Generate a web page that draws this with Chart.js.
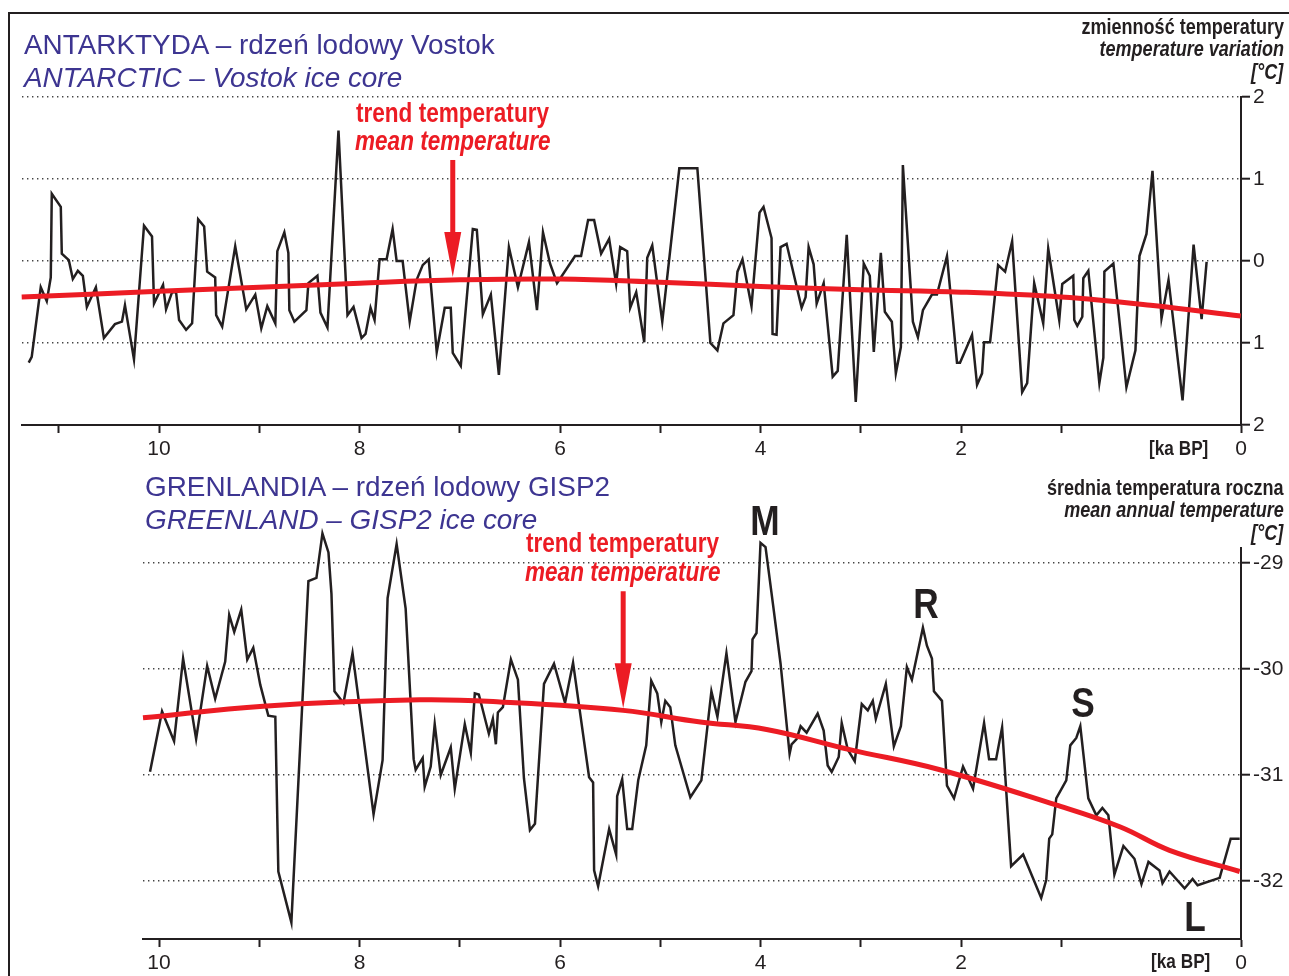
<!DOCTYPE html>
<html>
<head>
<meta charset="utf-8">
<script src="https://cdn.jsdelivr.net/npm/chart.js@4.4.1/dist/chart.umd.min.js"></script>
<style>
  html, body { margin: 0; padding: 0; background: #fff; }
  #page { position: relative; width: 1289px; height: 976px; overflow: hidden; background: #fff; }
  #frame { position: absolute; left: 8px; top: 12px; width: 1300px; height: 1000px;
           border-left: 2px solid #231f20; border-top: 2px solid #231f20; }
  canvas { position: absolute; left: 0; }
  .t { position: absolute; line-height: 0; white-space: nowrap; }
</style>
</head>
<body>
<div id="page">
  <div id="frame"></div>
  <canvas id="vostok" width="1289" height="470" style="top:0px"></canvas>
  <canvas id="gisp" width="1289" height="516" style="top:460px"></canvas>
</div>
<script>
// ---- data (ka BP, °C) ----
const vostokAge = [11.30, 11.27, 11.18, 11.12, 11.08, 11.07, 10.98, 10.97, 10.90, 10.86, 10.81, 10.76, 10.72, 10.63, 10.55, 10.44, 10.37, 10.34, 10.25, 10.15,
  10.07, 10.05, 9.96, 9.93, 9.87, 9.83, 9.80, 9.73, 9.67, 9.61, 9.55, 9.52, 9.44, 9.43, 9.37, 9.24, 9.13, 9.04, 8.98, 8.92,
  8.84, 8.82, 8.75, 8.71, 8.70, 8.65, 8.53, 8.51, 8.42, 8.39, 8.32, 8.21, 8.12, 8.06, 7.98, 7.94, 7.89, 7.85, 7.80, 7.73,
  7.67, 7.63, 7.57, 7.50, 7.43, 7.37, 7.31, 7.23, 7.15, 7.09, 7.07, 6.99, 6.87, 6.83, 6.77, 6.69, 6.61, 6.51, 6.42, 6.31,
  6.23, 6.17, 6.10, 6.03, 5.85, 5.79, 5.72, 5.66, 5.59, 5.51, 5.44, 5.40, 5.33, 5.30, 5.24, 5.16, 5.13, 5.08, 4.98, 4.81,
  4.63, 4.50, 4.43, 4.37, 4.27, 4.23, 4.18, 4.09, 4.01, 3.97, 3.89, 3.88, 3.84, 3.80, 3.74, 3.59, 3.55, 3.52, 3.47, 3.44,
  3.37, 3.28, 3.23, 3.14, 3.05, 2.97, 2.91, 2.87, 2.80, 2.76, 2.69, 2.65, 2.60, 2.58, 2.48, 2.43, 2.38, 2.29, 2.24, 2.14,
  2.04, 2.01, 1.89, 1.84, 1.79, 1.77, 1.71, 1.63, 1.56, 1.49, 1.39, 1.34, 1.27, 1.18, 1.13, 1.02, 0.99, 0.88, 0.87, 0.84,
  0.79, 0.78, 0.73, 0.62, 0.58, 0.57, 0.48, 0.35, 0.26, 0.22, 0.15, 0.09, 0.00, -0.07, -0.21, -0.32, -0.40, -0.45];
const vostokTemp = [-1.24, -1.17, -0.32, -0.49, -0.20, 0.82, 0.66, 0.09, 0.01, -0.22, -0.12, -0.18, -0.56, -0.32, -0.94, -0.77, -0.74, -0.54, -1.20, 0.43,
  0.30, -0.52, -0.29, -0.59, -0.38, -0.38, -0.72, -0.84, -0.76, 0.51, 0.42, -0.13, -0.20, -0.66, -0.80, 0.18, -0.59, -0.41, -0.82, -0.55,
  -0.76, 0.12, 0.35, 0.10, -0.60, -0.74, -0.60, -0.27, -0.18, -0.63, -0.81, 1.59, -0.66, -0.56, -0.94, -0.89, -0.57, -0.72, 0.02, 0.02,
  0.39, 0.00, 0.00, -0.74, -0.23, -0.05, 0.02, -1.11, -0.57, -0.57, -1.12, -1.28, 0.39, 0.38, -0.65, -0.41, -1.39, 0.17, -0.32, 0.23,
  -0.60, 0.35, -0.03, -0.27, 0.06, 0.06, 0.50, 0.50, 0.09, 0.27, -0.28, 0.17, 0.12, -0.57, -0.38, -0.99, 0.04, 0.19, -0.74, 1.13,
  1.13, -1.00, -1.09, -0.76, -0.66, -0.13, 0.02, -0.55, 0.59, 0.66, 0.28, -0.89, -0.90, 0.17, 0.21, -0.57, -0.44, 0.17, -0.04, -0.52,
  -0.27, -1.41, -1.34, 0.32, -1.72, -0.03, -0.18, -1.11, 0.10, -0.62, -0.74, -1.37, -1.05, 1.17, -0.74, -0.93, -0.60, -0.41, -0.41, 0.06,
  -1.24, -1.24, -0.90, -1.51, -1.37, -0.99, -0.99, -0.05, -0.13, 0.24, -1.60, -1.49, -0.27, -0.76, 0.15, -0.72, -0.28, -0.18, -0.72, -0.79,
  -0.68, -0.21, -0.12, -1.49, -1.18, -0.13, -0.03, -1.54, -1.09, 0.06, 0.33, 1.10, -0.70, -0.23, -1.70, 0.20, -0.71, -0.01];
const vostokTrendAge = [11.37, 10, 9, 8, 7, 6, 5, 4, 3, 2, 1, 0.11, -0.79];
const vostokTrendTemp = [-0.44, -0.37, -0.32, -0.27, -0.23, -0.22, -0.26, -0.31, -0.35, -0.38, -0.44, -0.54, -0.67];

const gispAge = [10.09, 9.97, 9.85, 9.76, 9.63, 9.52, 9.44, 9.34, 9.30, 9.25, 9.18, 9.12, 9.06, 8.99, 8.91, 8.84, 8.81, 8.68, 8.51, 8.43,
  8.37, 8.31, 8.28, 8.25, 8.16, 8.07, 7.86, 7.77, 7.72, 7.63, 7.54, 7.46, 7.44, 7.37, 7.35, 7.29, 7.25, 7.19, 7.09, 7.05,
  6.95, 6.89, 6.85, 6.81, 6.71, 6.67, 6.64, 6.62, 6.57, 6.49, 6.42, 6.36, 6.30, 6.25, 6.16, 6.06, 5.95, 5.87, 5.71, 5.67,
  5.66, 5.62, 5.51, 5.44, 5.43, 5.38, 5.33, 5.28, 5.22, 5.14, 5.09, 5.03, 4.99, 4.95, 4.90, 4.85, 4.70, 4.59, 4.49, 4.43,
  4.34, 4.25, 4.15, 4.09, 4.08, 4.04, 4.00, 3.95, 3.87, 3.80, 3.71, 3.69, 3.64, 3.60, 3.54, 3.43, 3.37, 3.33, 3.29, 3.22,
  3.19, 3.13, 3.06, 2.99, 2.93, 2.88, 2.85, 2.75, 2.67, 2.60, 2.54, 2.49, 2.38, 2.34, 2.29, 2.27, 2.19, 2.14, 2.07, 1.98,
  1.88, 1.77, 1.72, 1.65, 1.59, 1.50, 1.38, 1.20, 1.15, 1.12, 1.09, 1.05, 0.95, 0.91, 0.85, 0.81, 0.73, 0.65, 0.59, 0.53,
  0.47, 0.38, 0.27, 0.20, 0.13, 0.02, -0.01, -0.08, -0.23, -0.31, -0.36, -0.58, -0.69, -0.78];
const gispTemp = [-30.97, -30.40, -30.68, -29.90, -30.66, -29.97, -30.28, -29.93, -29.49, -29.65, -29.44, -29.91, -29.80, -30.15, -30.44, -30.45, -31.91, -32.39, -29.17, -29.14,
  -28.72, -28.90, -29.29, -30.21, -30.32, -29.85, -31.37, -30.86, -29.33, -28.82, -29.43, -30.85, -30.95, -30.84, -31.11, -30.92, -30.52, -31.00, -30.74, -31.13,
  -30.52, -30.79, -30.23, -30.24, -30.61, -30.47, -30.71, -30.41, -30.36, -29.91, -30.10, -31.03, -31.52, -31.46, -30.14, -29.95, -30.32, -29.94, -31.02, -31.07,
  -31.90, -32.05, -31.51, -31.75, -31.20, -31.04, -31.51, -31.51, -31.05, -30.72, -30.11, -30.23, -30.50, -30.30, -30.36, -30.72, -31.21, -31.05, -30.21, -30.45,
  -29.85, -30.50, -30.12, -30.02, -29.72, -29.66, -28.81, -28.85, -29.43, -29.95, -30.80, -30.71, -30.66, -30.54, -30.60, -30.42, -30.58, -30.91, -30.97, -30.83,
  -30.51, -30.76, -30.87, -30.33, -30.39, -30.30, -30.47, -30.14, -30.73, -30.54, -29.98, -30.10, -29.61, -29.78, -29.90, -30.21, -30.30, -31.10, -31.22, -30.92,
  -31.13, -30.51, -30.85, -30.85, -30.55, -31.86, -31.75, -32.16, -31.99, -31.60, -31.56, -31.22, -31.05, -30.72, -30.65, -30.54, -31.22, -31.38, -31.31, -31.38,
  -31.94, -31.67, -31.79, -32.03, -31.82, -31.90, -32.02, -31.91, -32.07, -31.98, -32.04, -31.97, -31.60, -31.60];
const gispTrendAge = [10.16, 8.96, 7.40, 6.60, 5.37, 4.60, 3.94, 3.11, 2.21, 1.06, 0.41, -0.08, -0.78];
const gispTrendTemp = [-30.46, -30.35, -30.29, -30.31, -30.39, -30.50, -30.57, -30.76, -30.95, -31.28, -31.49, -31.71, -31.91];

const tickAges = [11, 10, 9, 8, 7, 6, 5, 4, 3, 2, 1];
const vostokTicks = [-2, -1, 0, 1, 2];
const gispTicks = [-32, -31, -30, -29];
const AGE_END = -0.793;   // right edge of the time axis, labelled "0"

// ---- style ----
const INK = '#231f20';
const RED = '#ec1c24';
const BLUE = '#3d3591';
const SANS = "'Liberation Sans', Arial, sans-serif";
const NARROW = 0.82;      // horizontal squeeze to get a condensed look

Chart.defaults.font.family = SANS;
Chart.defaults.color = INK;

const pts = (xs, ys) => xs.map((x, i) => ({ x, y: ys[i] }));

// red arrow pointing at the trend line
const arrowPlugin = {
  id: 'arrow',
  afterDatasetsDraw(chart, args, opts) {
    const { ctx, scales: { x, y } } = chart;
    const px = x.getPixelForValue(opts.age);
    const tip = y.getPixelForValue(opts.tip);
    ctx.save();
    ctx.fillStyle = RED;
    ctx.fillRect(px - 2.5, tip - opts.length, 5, opts.length - opts.head + 1);
    ctx.beginPath();
    ctx.moveTo(px - 8.5, tip - opts.head);
    ctx.lineTo(px + 8.5, tip - opts.head);
    ctx.lineTo(px, tip);
    ctx.closePath();
    ctx.fill();
    ctx.restore();
  }
};

function xAxis(maxAge, height) {
  return {
    type: 'linear', reverse: true, min: AGE_END, max: maxAge,
    afterBuildTicks: s => {
      s.ticks = tickAges.filter(v => v <= maxAge).map(v => ({ value: v })).concat([{ value: AGE_END }]);
    },
    afterFit: s => { s.height = height; },
    ticks: {
      autoSkip: false, maxRotation: 0, padding: 4, color: INK, font: { size: 21 },
      callback: v => Math.abs(v - AGE_END) < 1e-6 ? '0' : (Math.round(v) % 2 === 0 ? String(v) : '')
    },
    grid: { drawOnChartArea: false, drawTicks: true, tickLength: 8, tickWidth: 2, tickColor: INK, color: INK },
    border: { display: true, color: INK, width: 2 }
  };
}

function yAxis(min, max, ticks, hideValue, fmt) {
  return {
    position: 'right', min, max,
    afterBuildTicks: s => { s.ticks = ticks.map(v => ({ value: v })); },
    afterFit: s => { s.width = 48; },
    ticks: { padding: 3, color: INK, font: { size: 21 }, callback: fmt },
    grid: {
      color: c => (c.tick && c.tick.value === hideValue) ? 'rgba(0,0,0,0)' : '#444',
      lineWidth: 1.4, tickLength: 9, tickWidth: 2, tickColor: INK
    },
    border: { display: true, color: INK, width: 2, dash: [1.4, 3.6] }
  };
}

function makeChart(id, series, trend, scales, padding, arrow) {
  return new Chart(document.getElementById(id), {
    type: 'line',
    data: {
      datasets: [
        { data: trend, borderColor: RED, borderWidth: 5, pointRadius: 0, tension: 0.4, fill: false, clip: false },
        { data: series, borderColor: INK, borderWidth: 2.5, pointRadius: 0, tension: 0, fill: false,
          borderJoinStyle: 'miter', clip: false }
      ]
    },
    options: {
      responsive: false, animation: false, devicePixelRatio: 1,
      layout: { padding, autoPadding: false },
      plugins: { legend: { display: false }, tooltip: { enabled: false }, arrow },
      scales
    },
    plugins: [arrowPlugin]
  });
}

makeChart('vostok', pts(vostokAge, vostokTemp), pts(vostokTrendAge, vostokTrendTemp),
  { x: xAxis(11.367, 45), y: yAxis(-2, 2, vostokTicks, -2, v => String(Math.abs(v))) },
  { left: 22, top: 97, right: 0, bottom: 0 },
  { age: 7.07, tip: -0.195, length: 117, head: 45 });

makeChart('gisp', pts(gispAge, gispTemp), pts(gispTrendAge, gispTrendTemp),
  { x: xAxis(10.16, 37), y: yAxis(-32.547, -28.858, gispTicks, null, v => '-' + Math.abs(v)) },
  { left: 143, top: 88, right: 0, bottom: 0 },
  { age: 5.37, tip: -30.37, length: 117, head: 45 });

// ---- texts (baseline positioned) ----
const page = document.getElementById('page');
function label(text, x, baseline, opt) {
  const fs = opt.size;
  const k = opt.squeeze || 1;
  const d = document.createElement('div');
  d.className = 't';
  d.textContent = text;
  d.style.fontFamily = SANS;
  d.style.fontSize = fs + 'px';
  d.style.fontWeight = opt.bold ? 'bold' : 'normal';
  d.style.fontStyle = opt.italic ? 'italic' : 'normal';
  d.style.color = opt.color || INK;
  d.style.top = (baseline - 0.3465 * fs) + 'px';
  if (opt.align === 'right') {
    d.style.right = (1289 - x) + 'px';
    d.style.transformOrigin = 'right center';
    d.style.transform = 'scaleX(' + k + ')';
  } else if (opt.align === 'center') {
    d.style.left = x + 'px';
    d.style.transform = 'translateX(-50%) scaleX(' + k + ')';
  } else {
    d.style.left = x + 'px';
    d.style.transformOrigin = 'left center';
    d.style.transform = 'scaleX(' + k + ')';
  }
  page.appendChild(d);
}

const titleFont = { size: 27.9, color: BLUE };
const titleItalic = { size: 27.9, color: BLUE, italic: true };
const unitFont = { size: 22, bold: true, align: 'right', squeeze: NARROW };
const unitItalic = { size: 22, bold: true, italic: true, align: 'right', squeeze: NARROW };
const redFont = { size: 27.5, bold: true, color: RED, squeeze: NARROW };
const redItalic = { size: 27.5, bold: true, italic: true, color: RED, squeeze: NARROW };
const axisName = { size: 21, bold: true, align: 'right', squeeze: NARROW };
const period = { size: 43, bold: true, align: 'center', squeeze: NARROW };

label('ANTARKTYDA \u2013 rdzeń lodowy Vostok', 24, 55, titleFont);
label('ANTARCTIC \u2013 Vostok ice core', 24, 88, titleItalic);
label('zmienność temperatury', 1284, 35, unitFont);
label('temperature variation', 1284, 57, unitItalic);
label('[°C]', 1283, 80, unitItalic);
label('trend temperatury', 356, 123, redFont);
label('mean temperature', 355, 151, redItalic);
label('[ka BP]', 1208, 455, axisName);

label('GRENLANDIA \u2013 rdzeń lodowy GISP2', 145, 497, titleFont);
label('GREENLAND \u2013 GISP2 ice core', 145, 530, titleItalic);
label('średnia temperatura roczna', 1284, 496, unitFont);
label('mean annual temperature', 1284, 518, unitItalic);
label('[°C]', 1283, 541, unitItalic);
label('trend temperatury', 526, 553, redFont);
label('mean temperature', 525, 582, redItalic);
label('[ka BP]', 1210, 968, axisName);

label('M', 765, 535, period);
label('R', 926, 618, period);
label('S', 1083, 717, period);
label('L', 1195, 931, period);
</script>
</body>
</html>
